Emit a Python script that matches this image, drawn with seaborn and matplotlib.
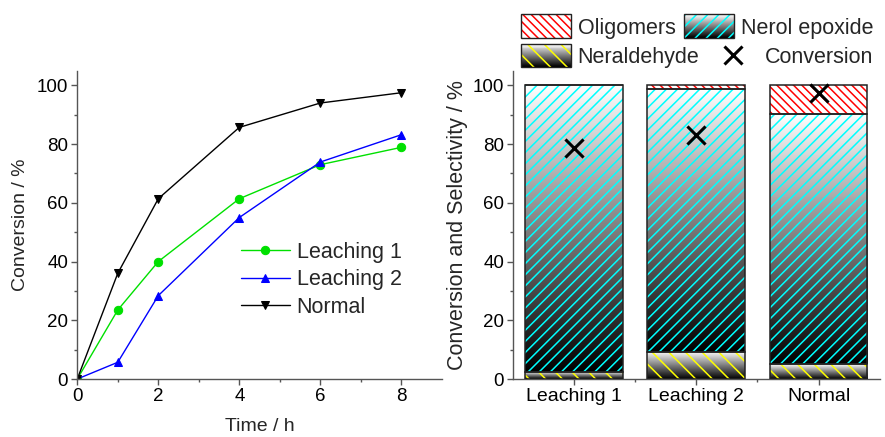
import numpy as np
import matplotlib
matplotlib.use('Agg')
import matplotlib.pyplot as plt
from matplotlib.patches import Rectangle
from matplotlib.lines import Line2D
from matplotlib.legend_handler import HandlerBase
import seaborn as sns

# kinetics (left)
time_h = [0, 1, 2, 4, 6, 8]
leaching1 = [0, 23.5, 40.0, 61.4, 73.0, 78.9]
leaching2 = [0, 5.7, 28.4, 55.0, 73.9, 83.2]
normal = [0, 36.0, 61.4, 85.7, 94.0, 97.5]

# selectivity (right)
samples = ['Leaching 1', 'Leaching 2', 'Normal']
neraldehyde = [2.5, 9.2, 5.0]
nerol_epoxide = [97.5, 89.4, 85.1]
oligomers = [0.0, 1.4, 9.9]
conversion = [78.8, 83.2, 97.5]

sns.set_theme(style='ticks')
plt.rcParams['font.family'] = ['Liberation Sans', 'DejaVu Sans']
plt.rcParams['hatch.linewidth'] = 1.1
spine_col = '#555555'

fig = plt.figure(figsize=(8.85, 4.37), dpi=100)
ax1 = fig.add_axes([0.0873, 0.1327, 0.412, 0.7055])
ax2 = fig.add_axes([0.5797, 0.1327, 0.4142, 0.7055])


def style_axis(ax):
    for s in ['top', 'right']:
        ax.spines[s].set_visible(False)
    for s in ['left', 'bottom']:
        ax.spines[s].set_color(spine_col)
        ax.spines[s].set_linewidth(1.0)
    ax.tick_params(which='major', direction='out', length=4.5, width=1.0,
                   color=spine_col, labelsize=13.5, labelcolor='black', pad=2)
    ax.tick_params(which='minor', direction='out', length=2.5, width=1.0,
                   color=spine_col)


# ---- left: conversion vs time
series = [('Leaching 1', leaching1, '#00e000', 'o'),
          ('Leaching 2', leaching2, '#0000ff', '^'),
          ('Normal', normal, 'black', 'v')]
for name, vals, col, mk in series:
    sns.lineplot(x=time_h, y=vals, ax=ax1, color=col, marker=mk, markersize=6,
                 markeredgecolor=col, linewidth=1.0, label=name)
ax1.get_legend().remove()
ax1.set_xlim(0, 9)
ax1.set_ylim(0, 105)
ax1.set_xticks([0, 2, 4, 6, 8])
ax1.set_xticks([1, 3, 5, 7], minor=True)
ax1.set_yticks([0, 20, 40, 60, 80, 100])
ax1.set_yticks([10, 30, 50, 70, 90], minor=True)
ax1.set_xlabel('Time / h', fontsize=14, labelpad=9)
ax1.set_ylabel('Conversion / %', fontsize=14, labelpad=6)
style_axis(ax1)
h1, l1 = ax1.get_legend_handles_labels()
fig.legend(h1, l1, loc='upper left', bbox_to_anchor=(0.272, 0.447),
           frameon=False, fontsize=15.5, handlelength=2.3, handletextpad=0.3,
           labelspacing=0.3, borderpad=0, borderaxespad=0)

# ---- right: stacked selectivity bars
xpos = np.arange(len(samples))
width = 0.8


def grad_fill(ax, x, bottom, height):
    if height <= 0:
        return
    grad = np.linspace(1, 0, 256).reshape(-1, 1)
    ax.imshow(grad, cmap='gray', vmin=0, vmax=1, aspect='auto', zorder=1,
              extent=[x - width / 2, x + width / 2, bottom, bottom + height],
              interpolation='bilinear')


bottoms = np.zeros(len(samples))
layers = [(neraldehyde, '#ffff00', '\\\\', True),
          (nerol_epoxide, '#00ffff', '///', True),
          (oligomers, '#ff0000', '\\\\\\\\', False)]
for vals, hcol, hatch, gradient in layers:
    vals = np.array(vals)
    for i in range(len(samples)):
        if gradient:
            grad_fill(ax2, xpos[i], bottoms[i], vals[i])
    ax2.bar(xpos, vals, width, bottom=bottoms, color='none', edgecolor=hcol,
            hatch=hatch, linewidth=0, zorder=2)
    ax2.bar(xpos, vals, width, bottom=bottoms, fill=False, edgecolor='#222222',
            linewidth=1.1, zorder=3)
    bottoms = bottoms + vals

sns.scatterplot(x=xpos, y=conversion, ax=ax2, marker='x', s=170,
                color='black', linewidth=2.2, zorder=5)

ax2.set_xlim(-0.5, 2.5)
ax2.set_ylim(0, 105)
ax2.set_xticks(xpos)
ax2.set_xticklabels(samples)
ax2.set_xticks([0.5, 1.5], minor=True)
ax2.set_yticks([0, 20, 40, 60, 80, 100])
ax2.set_yticks([10, 30, 50, 70, 90], minor=True)
ax2.set_ylabel('Conversion and Selectivity / %', fontsize=15.5, labelpad=3)
style_axis(ax2)
ax2.tick_params(axis='x', labelsize=14)


class PatternHandler(HandlerBase):
    def __init__(self, hcol, hatch, gradient):
        super().__init__()
        self.hcol = hcol
        self.hatch = hatch
        self.gradient = gradient

    def create_artists(self, legend, orig_handle, xdescent, ydescent, width,
                       height, fontsize, trans):
        x0, y0 = -xdescent, -ydescent - 3.2
        h = height + 6.4
        arts = []
        if self.gradient:
            n = 24
            for k in range(n):
                g = k / (n - 1)
                arts.append(Rectangle((x0, y0 + h * k / n), width, h / n + 0.3,
                                      facecolor=(g, g, g), edgecolor='none',
                                      linewidth=0, transform=trans))
        else:
            arts.append(Rectangle((x0, y0), width, h, facecolor='white',
                                  edgecolor='none', transform=trans))
        arts.append(Rectangle((x0, y0), width, h, facecolor='none',
                              edgecolor=self.hcol, hatch=self.hatch,
                              linewidth=0, transform=trans))
        arts.append(Rectangle((x0, y0), width, h, fill=False,
                              edgecolor='#222222', linewidth=1.0,
                              transform=trans))
        return arts


p_olig = Rectangle((0, 0), 1, 1)
p_nerol = Rectangle((0, 0), 1, 1)
p_neral = Rectangle((0, 0), 1, 1)
m_conv = Line2D([], [], marker='x', ls='none', color='black', markersize=13,
                mew=2.2)
hmap = {p_olig: PatternHandler('#ff0000', '\\\\\\\\', False),
        p_nerol: PatternHandler('#00ffff', '///', True),
        p_neral: PatternHandler('#ffff00', '\\\\', True)}
leg_kw = dict(loc='upper left', ncol=2, frameon=False, fontsize=15.5,
              handlelength=2.3, handletextpad=0.32, columnspacing=0.4,
              borderpad=0, borderaxespad=0, handler_map=hmap)
fig.legend([p_olig, p_nerol], ['Oligomers', 'Nerol epoxide'],
           bbox_to_anchor=(0.589, 0.9588), **leg_kw)
fig.legend([p_neral, m_conv], ['Neraldehyde', 'Conversion'],
           bbox_to_anchor=(0.589, 0.8924), **leg_kw)

fig.savefig('out.png', dpi=100)
